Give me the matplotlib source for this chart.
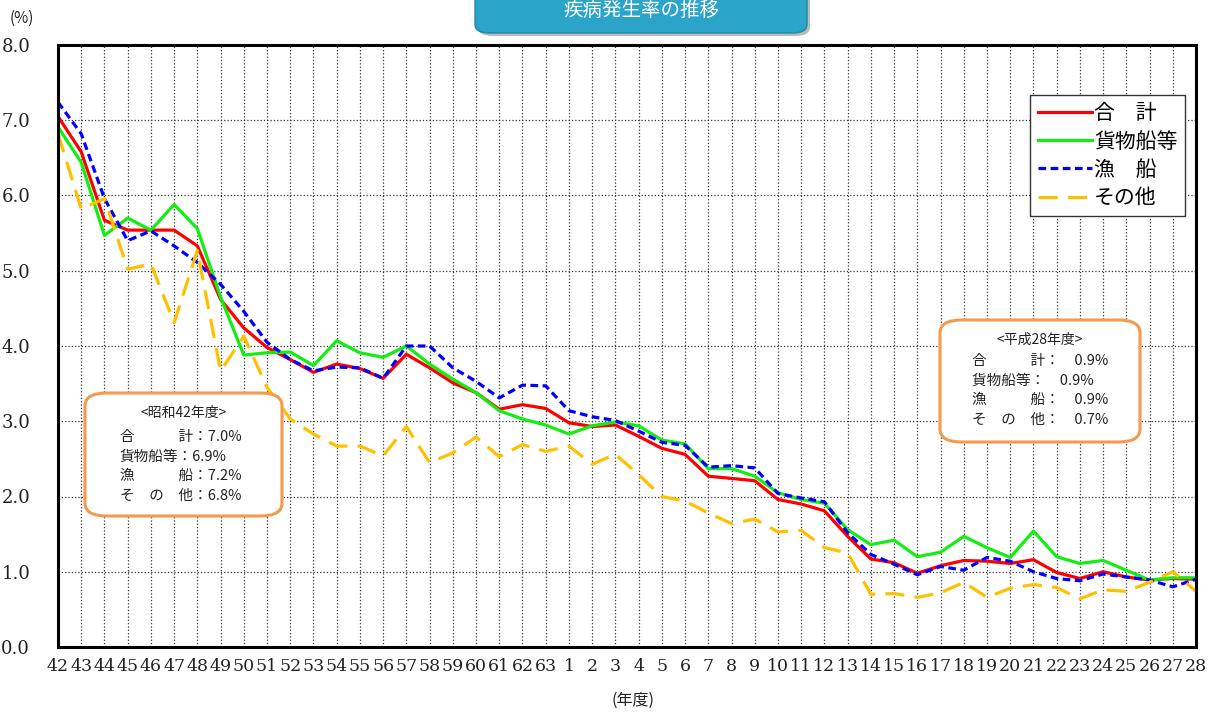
import matplotlib
matplotlib.use('Agg')
import matplotlib.pyplot as plt
from matplotlib.patches import FancyBboxPatch

plt.rcParams['font.family'] = ['Noto Sans CJK JP', 'DejaVu Sans']

# 年度ラベル（昭和42〜63、平成1〜28）
years = [str(y) for y in range(42, 64)] + [str(y) for y in range(1, 29)]

total = [7.05, 6.58, 5.67, 5.54, 5.54, 5.54, 5.33, 4.62, 4.24, 3.98, 3.82, 3.65,
         3.76, 3.70, 3.57, 3.89, 3.71, 3.51, 3.38, 3.16, 3.22, 3.17,
         2.98, 2.93, 2.95, 2.80, 2.64, 2.56, 2.27, 2.24, 2.21, 1.96, 1.90, 1.81,
         1.47, 1.17, 1.12, 0.98, 1.08, 1.15, 1.14, 1.11, 1.16, 0.99, 0.91, 1.00,
         0.93, 0.89, 0.91, 0.90]
cargo = [6.91, 6.44, 5.47, 5.70, 5.54, 5.88, 5.56, 4.65, 3.88, 3.91, 3.92, 3.74,
         4.07, 3.91, 3.85, 4.00, 3.76, 3.56, 3.38, 3.14, 3.03, 2.95,
         2.83, 2.94, 2.99, 2.94, 2.75, 2.70, 2.37, 2.37, 2.27, 2.05, 1.96, 1.91,
         1.56, 1.36, 1.42, 1.20, 1.26, 1.47, 1.32, 1.19, 1.54, 1.20, 1.11, 1.15,
         1.02, 0.89, 0.92, 0.92]
fishing = [7.24, 6.82, 5.96, 5.40, 5.53, 5.33, 5.11, 4.82, 4.46, 4.05, 3.82, 3.67,
           3.72, 3.71, 3.57, 4.00, 4.00, 3.71, 3.53, 3.31, 3.48, 3.47,
           3.14, 3.06, 3.01, 2.87, 2.72, 2.68, 2.39, 2.41, 2.38, 2.04, 1.98, 1.93,
           1.52, 1.23, 1.10, 0.96, 1.07, 1.02, 1.19, 1.14, 1.00, 0.91, 0.88, 0.97,
           0.93, 0.89, 0.80, 0.90]
others = [6.82, 5.82, 5.96, 5.02, 5.09, 4.31, 5.27, 3.67, 4.13, 3.45, 3.03, 2.83,
          2.67, 2.67, 2.54, 2.93, 2.45, 2.58, 2.79, 2.53, 2.69, 2.60,
          2.67, 2.43, 2.56, 2.29, 2.00, 1.94, 1.78, 1.64, 1.70, 1.53, 1.55, 1.32,
          1.25, 0.70, 0.71, 0.66, 0.72, 0.86, 0.66, 0.78, 0.83, 0.79, 0.64, 0.76,
          0.74, 0.86, 1.00, 0.74]

W, H = 1214, 713
fig = plt.figure(figsize=(W / 100, H / 100), dpi=100)
ax = fig.add_axes([58 / W, 1 - 647 / H, (1196 - 58) / W, (647 - 45) / H])

x = list(range(len(years)))
ax.plot(x, total, color='#ff0000', lw=2.3, label='合\u3000計')
ax.plot(x, cargo, color='#11ee11', lw=2.3, label='貨物船等')
ax.plot(x, fishing, color='#0000ff', lw=2.3, dashes=(2.4, 1.4), label='漁\u3000船')
ax.plot(x, others, color='#ffc000', lw=2.3, dashes=(6, 3.2), label='その他')

ax.set_xlim(0, len(years) - 1)
ax.set_ylim(0, 8)
ax.set_xticks(x)
ax.set_xticklabels(years, family='DejaVu Serif', fontsize=12.5, color='#222222')
ax.set_yticks(range(9))
ax.set_yticklabels(['%.1f' % v for v in range(9)], family='DejaVu Serif',
                   fontsize=13, color='#222222')
ax.tick_params(length=0, pad=8)
ax.tick_params(axis='y', pad=20)
ax.grid(True, color='#333333', linestyle=':', lw=0.9)
ax.set_axisbelow(True)
for s in ax.spines.values():
    s.set_linewidth(2.2)
    s.set_color('black')

leg = ax.legend(loc='upper right', bbox_to_anchor=(0.99, 0.917), fontsize=15,
                handlelength=2.6, handletextpad=0.1, labelspacing=0.3,
                borderpad=0.35, borderaxespad=0, fancybox=False, framealpha=1,
                edgecolor='#333333')
leg.get_frame().set_linewidth(1.0)

# 注記ボックス
def note_box(x0, y0, x1, y1, title, rows, tx, ty, dy):
    box = FancyBboxPatch((x0 / W, 1 - y1 / H), (x1 - x0) / W, (y1 - y0) / H,
                         boxstyle='round,pad=0,rounding_size=0.018',
                         transform=fig.transFigure, facecolor='white',
                         edgecolor='#f39a4c', lw=2.2, zorder=5)
    fig.patches.append(box)
    fig.text((x0 + x1) / 2 / W, 1 - (y0 + 20) / H, title, ha='center', va='center',
             fontsize=10, color='#222222', zorder=6)
    for i, r in enumerate(rows):
        fig.text(tx / W, 1 - (ty + i * dy) / H, r, ha='left', va='center',
                 fontsize=10.5, color='#222222', zorder=6)

note_box(85, 393, 282, 516, '<昭和42年度>',
         ['合\u3000\u3000\u3000計：7.0%', '貨物船等：6.9%',
          '漁\u3000\u3000\u3000船：7.2%', 'そ\u3000の\u3000他：6.8%'],
         120, 437, 19.5)
note_box(940, 320, 1140, 442, '<平成28年度>',
         ['合\u3000\u3000\u3000計：\u30000.9%', '貨物船等：\u30000.9%',
          '漁\u3000\u3000\u3000船：\u30000.9%', 'そ\u3000の\u3000他：\u30000.7%'],
         972, 361, 19.5)

# タイトル
shadow = FancyBboxPatch((478 / W, 1 - 36 / H), (807 - 475) / W, 60 / H,
                        boxstyle='round,pad=0,rounding_size=0.012',
                        transform=fig.transFigure, facecolor='#bbbbbb',
                        edgecolor='none')
fig.patches.append(shadow)
tbox = FancyBboxPatch((475 / W, 1 - 33 / H), (807 - 475) / W, 60 / H,
                      boxstyle='round,pad=0,rounding_size=0.012',
                      transform=fig.transFigure, facecolor='#2ba4c9',
                      edgecolor='#1e87a8', lw=1)
fig.patches.append(tbox)
fig.text(641 / W, 1 - 10 / H, '疾病発生率の推移', ha='center', va='center',
         fontsize=14, color='white')

fig.text(22 / W, 1 - 18 / H, '(%)', ha='center', va='center', fontsize=11,
         color='#222222')
fig.text(633 / W, 1 - 700 / H, '(年度)', ha='center', va='center', fontsize=11.5,
         color='#222222')

fig.savefig('out.png', dpi=100)
